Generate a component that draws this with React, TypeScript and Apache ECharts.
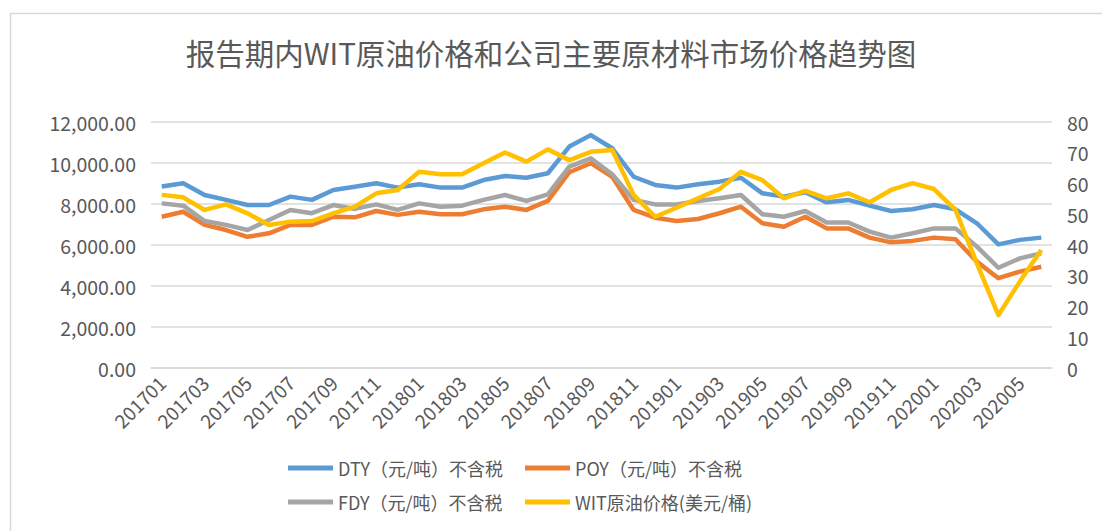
import React, { useEffect, useRef } from "react";
import * as echarts from "echarts";

const categories = [
  "201701", "201702", "201703", "201704", "201705", "201706", "201707", "201708", "201709", "201710", "201711", "201712",
  "201801", "201802", "201803", "201804", "201805", "201806", "201807", "201808", "201809", "201810", "201811", "201812",
  "201901", "201902", "201903", "201904", "201905", "201906", "201907", "201908", "201909", "201910", "201911", "201912",
  "202001", "202002", "202003", "202004", "202005", "202006",
];

const dty = [8850, 9010, 8440, 8200, 7950, 7950, 8360, 8200, 8680, 8840, 9010, 8800, 8960, 8800, 8800, 9170, 9370, 9280, 9500, 10800, 11360, 10720, 9330, 8930, 8800, 8960, 9090, 9280, 8520, 8360, 8570, 8080, 8200, 7920, 7660, 7740, 7950, 7740, 7060, 6030, 6250, 6360];
const poy = [7380, 7620, 6980, 6730, 6400, 6570, 6980, 6980, 7380, 7350, 7660, 7470, 7620, 7500, 7500, 7740, 7870, 7710, 8150, 9550, 9990, 9330, 7710, 7330, 7170, 7270, 7550, 7870, 7060, 6890, 7380, 6810, 6810, 6360, 6130, 6200, 6360, 6280, 5190, 4380, 4700, 4940];
const fdy = [8030, 7920, 7170, 6980, 6730, 7220, 7710, 7550, 7950, 7760, 7980, 7710, 8030, 7870, 7920, 8200, 8440, 8150, 8470, 9820, 10230, 9450, 8200, 7980, 7980, 8150, 8280, 8440, 7500, 7380, 7660, 7100, 7100, 6650, 6360, 6570, 6810, 6810, 5920, 4890, 5350, 5590];
const wti = [56.3, 55.5, 51.4, 53.2, 50.3, 46.5, 47.6, 47.8, 50.3, 52.5, 56.8, 57.9, 63.8, 63.0, 63.0, 66.6, 70.1, 67.1, 71.1, 67.6, 70.3, 70.9, 56.3, 49.2, 52.1, 55.2, 58.2, 63.8, 61.1, 55.2, 57.6, 55.2, 56.8, 53.9, 57.9, 60.1, 58.2, 51.4, 34.0, 17.2, 28.1, 38.4];

const seriesNames = [
  "DTY（元/吨）不含税",
  "POY（元/吨）不含税",
  "FDY（元/吨）不含税",
  "WIT原油价格(美元/桶)",
];
const colors = ["#5B9BD5", "#ED7D31", "#A5A5A5", "#FFC000"];
const titleText = "报告期内WIT原油价格和公司主要原材料市场价格趋势图";

const FONT = "'Noto Sans CJK SC', 'Noto Sans', sans-serif";
const TXT = "#595959";

export default function App() {
  const ref = useRef<HTMLDivElement>(null);
  useEffect(() => {
    if (!ref.current) return;
    const chart = echarts.init(ref.current, undefined, { renderer: "svg" });
    const legendPos = [
      { left: 283, top: 454 },
      { left: 520, top: 454 },
      { left: 283, top: 488 },
      { left: 520, top: 488 },
    ];
    const seriesData = [dty, poy, fdy, wti];
    chart.setOption({
      animation: false,
      backgroundColor: "#ffffff",
      textStyle: { fontFamily: FONT },
      title: {
        text: titleText,
        left: "center",
        top: 32,
        textStyle: { fontFamily: FONT, fontSize: 29.5, fontWeight: "normal", color: TXT },
      },
      graphic: [
        {
          type: "rect",
          shape: { x: 10.5, y: 13.5, width: 1200, height: 700 },
          style: { fill: "none", stroke: "#D9D9D9", lineWidth: 1.5 },
          silent: true,
        },
      ],
      legend: seriesNames.map((n, i) => ({
        data: [n],
        left: legendPos[i].left,
        top: legendPos[i].top,
        icon: "rect",
        itemWidth: 45,
        itemHeight: 5,
        textStyle: { fontFamily: FONT, fontSize: 18, color: TXT },
      })),
      grid: { left: 151, right: 50, top: 122, bottom: 163, containLabel: false },
      xAxis: {
        type: "category",
        data: categories,
        boundaryGap: true,
        axisTick: { show: false },
        axisLine: { lineStyle: { color: "#D9D9D9", width: 1.5 } },
        axisLabel: { interval: 1, rotate: 45, fontSize: 19, color: TXT, fontFamily: FONT, margin: 11 },
      },
      yAxis: [
        {
          type: "value",
          min: 0,
          max: 12000,
          interval: 2000,
          axisLine: { show: false },
          axisTick: { show: false },
          splitLine: { lineStyle: { color: "#D9D9D9", width: 1.5 } },
          axisLabel: {
            fontSize: 19.5,
            color: TXT,
            fontFamily: FONT,
            margin: 15,
            formatter: (v: number) =>
              v.toLocaleString("en-US", { minimumFractionDigits: 2, maximumFractionDigits: 2 }),
          },
        },
        {
          type: "value",
          min: 0,
          max: 80,
          interval: 10,
          axisLine: { show: false },
          axisTick: { show: false },
          splitLine: { show: false },
          axisLabel: { fontSize: 19.5, color: TXT, fontFamily: FONT, margin: 15 },
        },
      ],
      series: seriesNames.map((n, i) => ({
        name: n,
        type: "line",
        yAxisIndex: i === 3 ? 1 : 0,
        data: seriesData[i],
        symbol: "none",
        color: colors[i],
        lineStyle: { width: 4.5, color: colors[i], join: "round" },
      })),
    });
    return () => chart.dispose();
  }, []);
  return (
    <div
      ref={ref}
      style={{ position: "fixed", left: 0, top: 0, width: 1102, height: 531 }}
    />
  );
}
